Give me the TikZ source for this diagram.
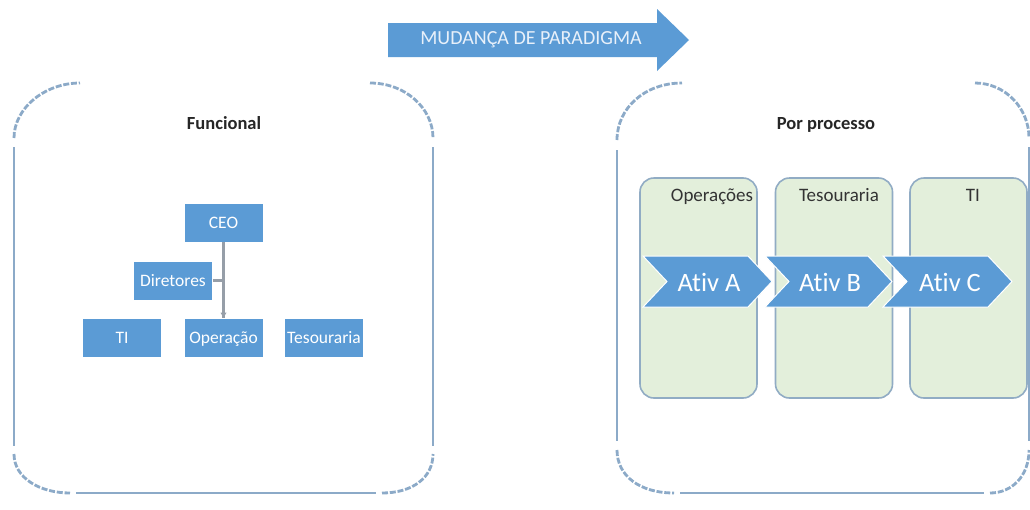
\documentclass[tikz,border=0pt]{standalone}
\usepackage{fontspec}
\usetikzlibrary{calc}
\setmainfont{Carlito}[Ligatures=NoCommon]
\definecolor{boxblue}{RGB}{91,155,213}
\definecolor{framec}{RGB}{140,170,200}
\definecolor{lanefill}{RGB}{227,239,219}
\definecolor{laneedge}{RGB}{145,172,196}
\definecolor{connc}{RGB}{150,158,168}
\definecolor{arrowtext}{RGB}{232,240,250}
\tikzset{
  orgbox/.style={fill=boxblue, draw=white, line width=0.8pt, text=white, minimum width=79pt, minimum height=39pt, inner sep=0pt, text height=11.5pt, text depth=0pt, font=\fontsize{17.5}{19}\selectfont},
  lanebox/.style={fill=lanefill, draw=laneedge, line width=1.6pt, rounded corners=14pt, minimum width=117pt, minimum height=220pt, inner sep=0pt},
  lanelabel/.style={text=black!80, anchor=base, font=\fontsize{19}{21}\selectfont},
  chev/.style={fill=boxblue, draw=white, line width=1pt},
  chevtext/.style={text=white, anchor=base, font=\fontsize{26.5}{28}\selectfont},
  framestraight/.style={draw=framec, line width=2.8pt},
  framecorner/.style={draw=framec, line width=2.8pt, dash pattern=on 6pt off 1.8pt},
  title/.style={text=black!85, anchor=base, font=\bfseries\fontsize{18.5}{20}\selectfont},
  conn/.style={draw=connc, line width=2.6pt},
}
\begin{document}
\begin{tikzpicture}[x=1pt,y=-1pt]
\clip (0,0) rectangle (1030,509);
\fill[white] (0,0) rectangle (1030,509);

% top arrow
\fill[boxblue] (388,23) -- (657,23) -- (657,9) -- (689,40) -- (657,71) -- (657,57) -- (388,57) -- cycle;
\node[text=arrowtext, font=\fontsize{20}{22}\selectfont] (shift) at (531,40) {MUDANÇA DE PARADIGMA};

% left frame
\draw[framestraight] (14,147) -- (14,446);
\draw[framestraight] (433,147) -- (433,446);
\draw[framestraight] (76,493) -- (376,493);
\draw[framecorner] (14,138) .. controls (14,108) and (45,83) .. (80,83);
\draw[framecorner] (370,83) .. controls (405,83) and (433,108) .. (433,138);
\draw[framecorner] (14,454) .. controls (14,478) and (40,493) .. (70,493);
\draw[framecorner] (382,493) .. controls (412,493) and (433,478) .. (433,454);
\node[title] (func) at (224,129) {Funcional};

% right frame
\draw[framestraight] (617,150) -- (617,441);
\draw[framestraight] (680,493) -- (984,493);
\draw[framestraight] (1029,147) -- (1029,441);
\draw[framecorner] (617,140) .. controls (617,108) and (645,83) .. (682,83);
\draw[framecorner] (975,83) .. controls (1005,83) and (1029,108) .. (1029,138);
\draw[framecorner] (617,450) .. controls (617,476) and (640,493) .. (674,493);
\draw[framecorner] (990,493) .. controls (1012,493) and (1029,476) .. (1029,450);
\node[title] (proc) at (826,129) {Por processo};

% org chart
\node[orgbox] (ceo) at (223.5,222.5) {CEO};
\node[orgbox] (dir) at (173,280.5) {Diretores};
\node[orgbox] (ti) at (122,337.5) {TI};
\node[orgbox] (op) at (223.5,337.5) {Operação};
\node[orgbox] (tes) at (324,337.5) {Tesouraria};
\draw[conn] (ceo.south) -- (op.north);
\draw[conn] (dir.east) -- (dir.east -| ceo.south);
\fill[connc] ($(op.north)+(-3,-5)$) -- ($(op.north)+(3,-5)$) -- (op.north) -- cycle;

% lanes
\node[lanebox] (lop) at (698.5,288) {};
\node[lanebox] (ltes) at (834,288) {};
\node[lanebox] (lti) at (968.5,288) {};
\node[lanelabel] (lopl) at (712,201) {Operações};
\node[lanelabel] (ltesl) at (839,201) {Tesouraria};
\node[lanelabel] (ltil) at (973,201) {TI};

% chevrons
\draw[chev] (643,256) -- (748,256) -- (772,281.5) -- (748,307) -- (643,307) -- (667,281.5) -- cycle;
\draw[chev] (765,256) -- (868,256) -- (892,281.5) -- (868,307) -- (765,307) -- (789,281.5) -- cycle;
\draw[chev] (883,256) -- (988,256) -- (1012,281.5) -- (988,307) -- (883,307) -- (907,281.5) -- cycle;
\node[chevtext] (ca) at (709,291) {Ativ A};
\node[chevtext] (cb) at (830,291) {Ativ B};
\node[chevtext] (cc) at (950,291) {Ativ C};
\end{tikzpicture}
\end{document}
